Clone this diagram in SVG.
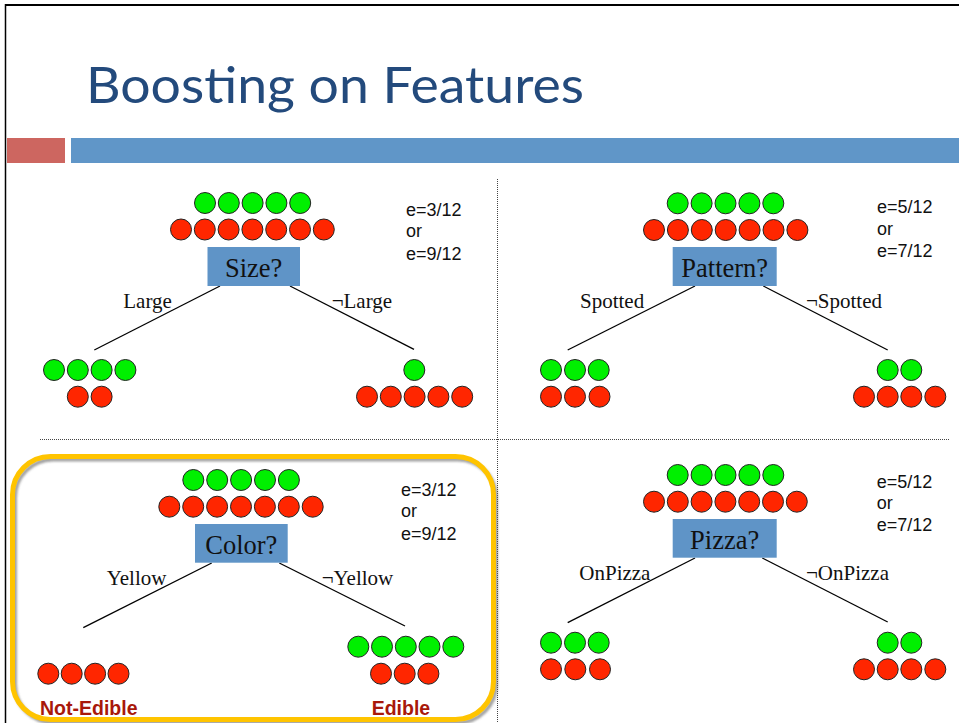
<svg xmlns="http://www.w3.org/2000/svg" width="959" height="723" viewBox="0 0 959 723">
  <defs>
    <style>
      .g { fill: #00F000; stroke: #222; stroke-width: 1; }
      .r { fill: #FF2600; stroke: #222; stroke-width: 1; }
      .box { fill: #5F94C7; }
      .q { font-family: "Liberation Serif", "Times New Roman", serif; font-size: 26.5px; fill: #111; text-anchor: middle; }
      .lbl { font-family: "Liberation Serif", "Times New Roman", serif; font-size: 21px; fill: #111; }
      .err { font-family: "Liberation Sans", Arial, sans-serif; font-size: 18px; fill: #111; }
      .edge { stroke: #000; stroke-width: 1.3; fill: none; }
      .div { stroke: #444; stroke-width: 1; stroke-dasharray: 1 1; fill: none; }
      .verdict { font-family: "Liberation Sans", Arial, sans-serif; font-weight: bold; font-size: 19.5px; fill: #A8180A; }
    </style>
    <filter id="soft" x="-5%" y="-5%" width="110%" height="110%">
      <feGaussianBlur stdDeviation="1.2"/>
    </filter>
  </defs>

  <rect width="959" height="723" fill="#fff"/>

  <!-- slide frame -->
  <line x1="5" y1="5" x2="959" y2="5" stroke="#000" stroke-width="2.2"/>
  <line x1="5.5" y1="4" x2="5.5" y2="723" stroke="#000" stroke-width="1.5"/>

  <!-- title and header bars -->
  <g id="title">
    <text x="86" y="103" font-family="Lato, 'Open Sans', sans-serif" font-size="50" fill="#234A7C" textLength="498" lengthAdjust="spacingAndGlyphs">Boosting on Features</text>
    <rect x="7" y="138" width="58" height="25" fill="#CD6660"/>
    <rect x="71" y="138" width="888" height="25" fill="#6096C8"/>
  </g>

  <!-- quadrant dividers -->
  <g id="dividers">
    <line class="div" x1="497.5" y1="179" x2="497.5" y2="723"/>
    <line class="div" x1="40" y1="439.5" x2="950" y2="439.5"/>
  </g>

  <!-- highlight around the chosen split -->
  <g id="highlight">
    <rect x="15" y="459.5" width="481" height="263" rx="38" fill="none" stroke="#666" stroke-opacity="0.6" stroke-width="4" filter="url(#soft)"/>
    <rect x="12.5" y="456.5" width="481" height="263" rx="38" fill="none" stroke="#FFC400" stroke-width="5"/>
  </g>

  <!-- branches -->
  <g id="connectors">
    <line class="edge" x1="220" y1="286" x2="94.3" y2="350"/>
    <line class="edge" x1="290" y1="286" x2="414" y2="349.3"/>
    <line class="edge" x1="695" y1="286" x2="567.7" y2="350"/>
    <line class="edge" x1="763.3" y1="286" x2="887.7" y2="350"/>
    <line class="edge" x1="211.7" y1="563" x2="83.3" y2="627.7"/>
    <line class="edge" x1="279.3" y1="563" x2="405" y2="626"/>
    <line class="edge" x1="695" y1="558" x2="567.7" y2="622.7"/>
    <line class="edge" x1="762.3" y1="558" x2="887.7" y2="622"/>
  </g>

  <!-- Size split -->
  <g id="size-root">
    <circle class="g" cx="205" cy="203" r="10.5"/><circle class="g" cx="228.8" cy="203" r="10.5"/><circle class="g" cx="252.6" cy="203" r="10.5"/><circle class="g" cx="276.4" cy="203" r="10.5"/><circle class="g" cx="300.2" cy="203" r="10.5"/>
    <circle class="r" cx="181" cy="229.5" r="10.5"/><circle class="r" cx="204.8" cy="229.5" r="10.5"/><circle class="r" cx="228.6" cy="229.5" r="10.5"/><circle class="r" cx="252.4" cy="229.5" r="10.5"/><circle class="r" cx="276.2" cy="229.5" r="10.5"/><circle class="r" cx="300" cy="229.5" r="10.5"/><circle class="r" cx="323.8" cy="229.5" r="10.5"/>
    <rect class="box" x="207.5" y="247" width="92.5" height="39"/>
    <text class="q" x="253.7" y="277">Size?</text>
    <text class="err" x="406" y="215.5">e=3/12</text>
    <text class="err" x="406" y="237">or</text>
    <text class="err" x="406" y="260">e=9/12</text>
  </g>
  <g id="size-large">
    <text class="lbl" x="123.3" y="307.5">Large</text>
    <circle class="g" cx="54" cy="370" r="10.5"/><circle class="g" cx="77.8" cy="370" r="10.5"/><circle class="g" cx="101.6" cy="370" r="10.5"/><circle class="g" cx="125.4" cy="370" r="10.5"/>
    <circle class="r" cx="77.8" cy="396.7" r="10.5"/><circle class="r" cx="101.6" cy="396.7" r="10.5"/>
  </g>
  <g id="size-not-large">
    <text class="lbl" x="331.7" y="307.5">¬Large</text>
    <circle class="g" cx="414.3" cy="370" r="10.5"/>
    <circle class="r" cx="367" cy="396.7" r="10.5"/><circle class="r" cx="390.8" cy="396.7" r="10.5"/><circle class="r" cx="414.6" cy="396.7" r="10.5"/><circle class="r" cx="438.4" cy="396.7" r="10.5"/><circle class="r" cx="462.2" cy="396.7" r="10.5"/>
  </g>

  <!-- Pattern split -->
  <g id="pattern-root">
    <circle class="g" cx="677.7" cy="203.3" r="10.5"/><circle class="g" cx="701.6" cy="203.3" r="10.5"/><circle class="g" cx="725.5" cy="203.3" r="10.5"/><circle class="g" cx="749.4" cy="203.3" r="10.5"/><circle class="g" cx="773.3" cy="203.3" r="10.5"/>
    <circle class="r" cx="654" cy="230" r="10.5"/><circle class="r" cx="677.9" cy="230" r="10.5"/><circle class="r" cx="701.8" cy="230" r="10.5"/><circle class="r" cx="725.7" cy="230" r="10.5"/><circle class="r" cx="749.6" cy="230" r="10.5"/><circle class="r" cx="773.5" cy="230" r="10.5"/><circle class="r" cx="797.4" cy="230" r="10.5"/>
    <rect class="box" x="672.7" y="247" width="104" height="39"/>
    <text class="q" x="724.7" y="277">Pattern?</text>
    <text class="err" x="877" y="213">e=5/12</text>
    <text class="err" x="877" y="234.5">or</text>
    <text class="err" x="877" y="257">e=7/12</text>
  </g>
  <g id="pattern-spotted">
    <text class="lbl" x="580" y="307.5">Spotted</text>
    <circle class="g" cx="551" cy="370" r="10.5"/><circle class="g" cx="575" cy="370" r="10.5"/><circle class="g" cx="598.7" cy="370" r="10.5"/>
    <circle class="r" cx="551" cy="396.7" r="10.5"/><circle class="r" cx="575" cy="396.7" r="10.5"/><circle class="r" cx="599.5" cy="396.7" r="10.5"/>
  </g>
  <g id="pattern-not-spotted">
    <text class="lbl" x="806" y="307.5">¬Spotted</text>
    <circle class="g" cx="887.7" cy="370" r="10.5"/><circle class="g" cx="911.3" cy="370" r="10.5"/>
    <circle class="r" cx="864" cy="396.7" r="10.5"/><circle class="r" cx="887.7" cy="396.7" r="10.5"/><circle class="r" cx="911.3" cy="396.7" r="10.5"/><circle class="r" cx="935.3" cy="396.7" r="10.5"/>
  </g>

  <!-- Color split -->
  <g id="color-root">
    <circle class="g" cx="193.3" cy="480" r="10.5"/><circle class="g" cx="217.2" cy="480" r="10.5"/><circle class="g" cx="241.1" cy="480" r="10.5"/><circle class="g" cx="265" cy="480" r="10.5"/><circle class="g" cx="288.9" cy="480" r="10.5"/>
    <circle class="r" cx="169.3" cy="506.7" r="10.5"/><circle class="r" cx="193.2" cy="506.7" r="10.5"/><circle class="r" cx="217.1" cy="506.7" r="10.5"/><circle class="r" cx="241" cy="506.7" r="10.5"/><circle class="r" cx="264.9" cy="506.7" r="10.5"/><circle class="r" cx="288.8" cy="506.7" r="10.5"/><circle class="r" cx="312.7" cy="506.7" r="10.5"/>
    <rect class="box" x="195" y="524" width="92.7" height="38.7"/>
    <text class="q" x="241.3" y="553.5">Color?</text>
    <text class="err" x="401" y="495.5">e=3/12</text>
    <text class="err" x="401" y="517">or</text>
    <text class="err" x="401" y="539.5">e=9/12</text>
  </g>
  <g id="color-yellow">
    <text class="lbl" x="106.7" y="585">Yellow</text>
    <circle class="r" cx="48.3" cy="673.7" r="10.5"/><circle class="r" cx="71.7" cy="673.7" r="10.5"/><circle class="r" cx="95.1" cy="673.7" r="10.5"/><circle class="r" cx="118.5" cy="673.7" r="10.5"/>
    <text class="verdict" x="40" y="715">Not-Edible</text>
  </g>
  <g id="color-not-yellow">
    <text class="lbl" x="321.7" y="585">¬Yellow</text>
    <circle class="g" cx="358.3" cy="646.7" r="10.5"/><circle class="g" cx="382" cy="646.7" r="10.5"/><circle class="g" cx="405.8" cy="646.7" r="10.5"/><circle class="g" cx="429.5" cy="646.7" r="10.5"/><circle class="g" cx="453.3" cy="646.7" r="10.5"/>
    <circle class="r" cx="381" cy="673.7" r="10.5"/><circle class="r" cx="404.7" cy="673.7" r="10.5"/><circle class="r" cx="428.4" cy="673.7" r="10.5"/>
    <text class="verdict" x="371.7" y="715">Edible</text>
  </g>

  <!-- Pizza split -->
  <g id="pizza-root">
    <circle class="g" cx="677.7" cy="475" r="10.5"/><circle class="g" cx="701.6" cy="475" r="10.5"/><circle class="g" cx="725.5" cy="475" r="10.5"/><circle class="g" cx="749.4" cy="475" r="10.5"/><circle class="g" cx="773.3" cy="475" r="10.5"/>
    <circle class="r" cx="654" cy="501.7" r="10.5"/><circle class="r" cx="677.8" cy="501.7" r="10.5"/><circle class="r" cx="701.6" cy="501.7" r="10.5"/><circle class="r" cx="725.4" cy="501.7" r="10.5"/><circle class="r" cx="749.2" cy="501.7" r="10.5"/><circle class="r" cx="773" cy="501.7" r="10.5"/><circle class="r" cx="796.8" cy="501.7" r="10.5"/>
    <rect class="box" x="672.7" y="519" width="104" height="38.7"/>
    <text class="q" x="724.7" y="549">Pizza?</text>
    <text class="err" x="876.7" y="487.5">e=5/12</text>
    <text class="err" x="876.7" y="508.5">or</text>
    <text class="err" x="876.7" y="531">e=7/12</text>
  </g>
  <g id="pizza-on">
    <text class="lbl" x="579.3" y="580">OnPizza</text>
    <circle class="g" cx="551" cy="642.7" r="10.5"/><circle class="g" cx="575" cy="642.7" r="10.5"/><circle class="g" cx="598.7" cy="642.7" r="10.5"/>
    <circle class="r" cx="551" cy="669.3" r="10.5"/><circle class="r" cx="575.3" cy="669.3" r="10.5"/><circle class="r" cx="600" cy="669.3" r="10.5"/>
  </g>
  <g id="pizza-not-on">
    <text class="lbl" x="806" y="580">¬OnPizza</text>
    <circle class="g" cx="887.7" cy="642.7" r="10.5"/><circle class="g" cx="911.3" cy="642.7" r="10.5"/>
    <circle class="r" cx="864" cy="669.3" r="10.5"/><circle class="r" cx="887.7" cy="669.3" r="10.5"/><circle class="r" cx="911.3" cy="669.3" r="10.5"/><circle class="r" cx="935.3" cy="669.3" r="10.5"/>
  </g>
</svg>
